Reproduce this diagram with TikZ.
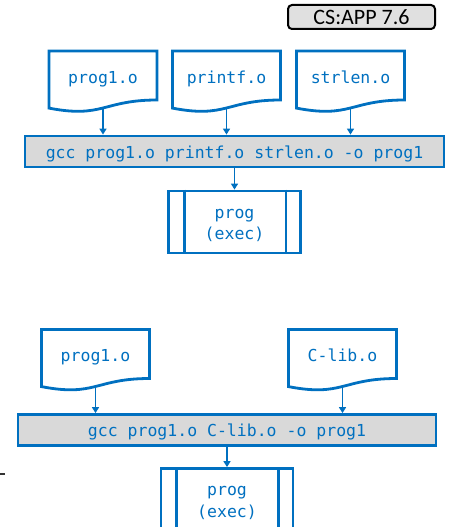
\documentclass[tikz,border=0pt]{standalone}
\usepackage{fontspec}
\setmonofont{DejaVu Sans Mono}
\newfontfamily\tagfont{Carlito}
\usetikzlibrary{arrows.meta,calc}

\definecolor{linkblue}{RGB}{0,112,192}
\definecolor{barfill}{RGB}{217,217,217}
\definecolor{tagfill}{RGB}{224,224,224}

\tikzset{
  codefont/.style={font=\ttfamily\fontsize{16.5}{21.7}\selectfont, text=linkblue},
  objfile/.style={codefont, minimum width=108pt, minimum height=49pt,
    inner sep=0pt, outer sep=0pt, text height=17.5pt, text depth=2pt},
  docline/.style={draw=linkblue, line width=2.8pt, line join=miter},
  cmdbar/.style={codefont, draw=linkblue, line width=2.8pt, fill=barfill,
    minimum height=31pt, inner sep=0pt, text height=15pt, text depth=2pt},
  execbox/.style={codefont, draw=linkblue, line width=2.8pt, fill=white,
    minimum width=132pt, minimum height=62pt, inner sep=0pt, align=center,
    text height=37.6pt, text depth=2pt},
  sideline/.style={draw=linkblue, line width=2.8pt},
  feed/.style={draw=linkblue, line width=1.8pt, -{Triangle[length=6pt,width=7pt]}},
  tagbox/.style={draw=black, line width=2pt, fill=tagfill, rounded corners=4pt,
    minimum width=147pt, minimum height=24pt, inner sep=0pt,
    font=\tagfont\fontsize{22}{24}\selectfont, text height=16pt, text depth=0pt},
}

% object-file outline: flat top, wavy bottom edge below the node
\newcommand\docoutline[1]{%
  \draw[docline] (#1.north west) -- (#1.north east) -- (#1.south east)
    .. controls (#1.south) and ($(#1.south)+(0,18.6)$) .. ($(#1.south west)+(0,8.1)$)
    -- cycle;}
% executable: double vertical bars near both sides
\newcommand\execbars[1]{%
  \draw[sideline] ($(#1.north west)+(17,0)$) -- ($(#1.south west)+(17,0)$);
  \draw[sideline] ($(#1.north east)+(-16,0)$) -- ($(#1.south east)+(-16,0)$);}

\begin{document}
\begin{tikzpicture}[x=1pt,y=-1pt]
\useasboundingbox (0,0) rectangle (448,527);

\node[tagbox] (tag) at (361.5,17) {CS:APP 7.6};

% static linking with separate objects
\node[objfile] (a1) at (103,75.5) {prog1.o};
\node[objfile] (a2) at (226.5,75.5) {printf.o};
\node[objfile] (a3) at (350.5,75.5) {strlen.o};
\docoutline{a1}\docoutline{a2}\docoutline{a3}

\node[cmdbar, minimum width=419pt] (g1) at (234.5,151.5) {gcc prog1.o printf.o strlen.o -o prog1};
\node[execbox] (e1) at (234.5,222) {prog\\(exec)};
\execbars{e1}

\foreach \n in {a1,a2,a3}
  \draw[feed] ($(\n.south)+(0,8)$) -- (\n.south |- g1.north);
\draw[feed] (e1.north |- g1.south) -- (e1.north);

% linking against a single library object
\node[objfile] (b1) at (95.5,354) {prog1.o};
\node[objfile] (b2) at (342.5,354) {C-lib.o};
\docoutline{b1}\docoutline{b2}

\node[cmdbar, minimum width=418pt] (g2) at (227,430) {gcc prog1.o C-lib.o -o prog1};
\node[execbox] (e2) at (227,499.5) {prog\\(exec)};
\execbars{e2}

\foreach \n in {b1,b2}
  \draw[feed] ($(\n.south)+(0,8)$) -- (\n.south |- g2.north);
\draw[feed] (e2.north |- g2.south) -- (e2.north);

% small mark at the left edge
\draw[black!80, line width=1.5pt] (0,474) -- (4.5,474);
\end{tikzpicture}
\end{document}
